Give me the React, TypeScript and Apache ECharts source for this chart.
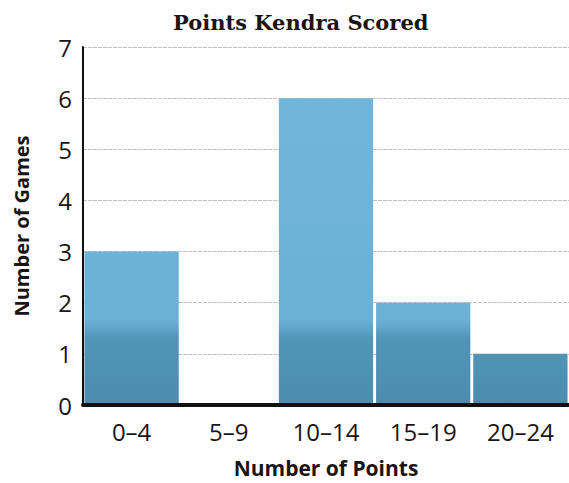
import React, { useEffect, useRef } from "react";
import * as echarts from "echarts";

const categories = ["0–4", "5–9", "10–14", "15–19", "20–24"];
const games = [3, 0, 6, 2, 1];
const yTicks = [0, 1, 2, 3, 4, 5, 6, 7];

const LABEL_FONT = "'Open Sans', 'Noto Sans', sans-serif";

export default function App() {
  const ref = useRef<HTMLDivElement>(null);

  useEffect(() => {
    if (!ref.current) return;
    const chart = echarts.init(ref.current, null, { renderer: "svg" });

    // printed-look fill: lighter blue above, darker band toward the baseline
    const barFill = new echarts.graphic.LinearGradient(
      0, 0, 0, 405,
      [
        { offset: 0, color: "#74b9dd" },
        { offset: 0.79, color: "#6bb1d5" },
        { offset: 0.835, color: "#5395b7" },
        { offset: 1, color: "#4b8caf" },
      ],
      true
    );

    chart.setOption({
      animation: false,
      backgroundColor: "#ffffff",
      title: {
        text: "Points Kendra Scored",
        left: 168,
        top: 7,
        textStyle: {
          fontFamily: "'DejaVu Serif', serif",
          fontWeight: "bold",
          fontSize: 21,
          color: "#1a1414",
        },
      },
      grid: {
        left: 83,
        right: 0,
        top: 47,
        bottom: 78,
        containLabel: false,
        outerBoundsMode: "none",
      },
      xAxis: {
        type: "category",
        data: categories,
        z: 5,
        name: "Number of Points",
        nameLocation: "middle",
        nameGap: 52,
        nameTextStyle: {
          fontFamily: LABEL_FONT,
          fontWeight: "bold",
          fontSize: 21,
          lineHeight: 22,
          color: "#1a1414",
        },
        axisLine: { lineStyle: { color: "#141010", width: 4 } },
        axisTick: { show: false },
        axisLabel: {
          fontFamily: LABEL_FONT,
          fontSize: 24,
          color: "#1a1414",
          margin: 14,
        },
      },
      yAxis: {
        type: "value",
        min: 0,
        max: yTicks[yTicks.length - 1],
        interval: 1,
        name: "Number of Games",
        nameLocation: "middle",
        nameGap: 52,
        nameTextStyle: {
          fontFamily: LABEL_FONT,
          fontWeight: "bold",
          fontSize: 20,
          color: "#1a1414",
        },
        axisLine: { show: true, lineStyle: { color: "#141010", width: 2 } },
        axisTick: { show: false },
        axisLabel: {
          fontFamily: LABEL_FONT,
          fontSize: 24,
          color: "#1a1414",
          margin: 11,
        },
        splitLine: {
          lineStyle: { color: "#c4c0c0", width: 1, type: [4, 1] },
        },
      },
      series: [
        {
          type: "bar",
          data: games,
          barCategoryGap: "3%",
          itemStyle: { color: barFill },
        },
      ],
    });

    return () => chart.dispose();
  }, []);

  return (
    <div
      ref={ref}
      style={{ position: "absolute", left: 0, top: 0, width: 569, height: 483 }}
    />
  );
}
